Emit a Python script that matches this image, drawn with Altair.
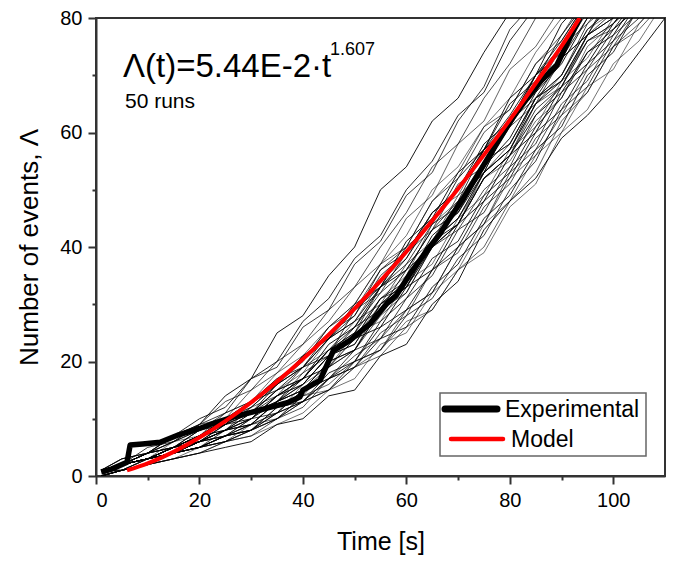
import altair as alt
import pandas as pd

# ---------------- data ----------------
# time grid (s) shared by the simulated runs
T = [1, 5, 10, 15, 20, 25, 30, 35, 40, 45, 50, 55, 60, 65, 70, 75, 80, 85, 90, 95, 100, 105, 110]

# number of events for each simulated run at the times in T
RUNS = [
    [1, 2, 4, 7, 9, 14, 17, 25, 28, 35, 40, 50, 54, 62, 66, 74, 81],
    [1, 3, 4, 7, 10, 12, 17, 20, 27, 31, 38, 42, 50, 55, 63, 67, 76, 82],
    [1, 2, 5, 6, 9, 11, 17, 19, 26, 29, 37, 41, 49, 53, 62, 68, 78, 83],
    [1, 2, 4, 7, 9, 13, 15, 20, 23, 29, 33, 40, 46, 54, 58, 66, 72, 80],
    [1, 3, 4, 6, 9, 10, 15, 18, 23, 27, 33, 37, 45, 49, 58, 62, 71, 75, 82],
    [1, 2, 3, 6, 7, 11, 13, 18, 21, 26, 30, 37, 42, 50, 54, 61, 66, 74, 80],
    [1, 2, 4, 5, 8, 9, 13, 16, 21, 24, 30, 33, 41, 45, 53, 57, 66, 70, 79, 84],
    [1, 2, 3, 5, 7, 10, 11, 16, 19, 25, 28, 36, 39, 46, 50, 57, 63, 70, 76, 83],
    [0, 1, 3, 4, 6, 9, 11, 15, 17, 22, 26, 32, 36, 43, 48, 57, 61, 68, 73, 80],
    [1, 2, 3, 5, 6, 8, 11, 13, 18, 21, 29, 32, 39, 43, 51, 54, 61, 65, 73, 77, 84],
    [1, 2, 4, 5, 7, 8, 12, 14, 19, 22, 27, 30, 37, 41, 49, 53, 62, 67, 75, 79, 85],
    [0, 1, 3, 4, 6, 7, 10, 14, 16, 21, 24, 31, 35, 44, 48, 55, 58, 66, 70, 78, 81],
    [1, 2, 3, 4, 6, 8, 10, 13, 16, 21, 23, 30, 34, 42, 46, 54, 59, 67, 72, 80],
    [1, 2, 3, 5, 7, 9, 13, 15, 19, 21, 26, 29, 36, 40, 48, 53, 62, 66, 73, 77, 85],
    [0, 1, 2, 4, 5, 8, 10, 14, 17, 22, 25, 33, 37, 44, 47, 55, 58, 66, 69, 77, 80],
    [1, 2, 3, 5, 6, 8, 9, 13, 15, 20, 22, 29, 32, 40, 44, 52, 56, 65, 70, 79, 83],
    [1, 2, 3, 4, 5, 7, 8, 12, 14, 19, 22, 30, 34, 41, 45, 53, 57, 65, 68, 76, 79, 84],
    [0, 1, 2, 3, 5, 6, 9, 11, 16, 19, 25, 27, 34, 37, 45, 49, 57, 61, 69, 73, 80],
    [1, 2, 4, 5, 7, 8, 11, 13, 17, 19, 24, 26, 33, 36, 44, 48, 56, 60, 68, 72, 79, 85],
    [1, 1, 2, 4, 5, 7, 8, 11, 13, 18, 20, 27, 31, 38, 41, 49, 53, 61, 66, 74, 78, 84],
    [1, 2, 3, 4, 6, 7, 10, 11, 15, 17, 22, 24, 31, 35, 43, 46, 54, 58, 67, 71, 78, 82],
    [0, 1, 2, 3, 4, 6, 7, 10, 12, 17, 19, 25, 28, 36, 39, 47, 51, 59, 63, 71, 75, 82],
    [1, 2, 3, 4, 5, 6, 8, 10, 14, 16, 20, 22, 29, 32, 40, 44, 52, 56, 63, 67, 75, 78, 83],
    [0, 1, 2, 3, 4, 6, 7, 9, 11, 15, 17, 23, 25, 32, 36, 44, 48, 56, 60, 68, 71, 79, 84],
    [1, 1, 2, 3, 4, 5, 6, 9, 10, 14, 15, 21, 23, 30, 34, 43, 48, 52, 59, 63, 68, 74, 80],
    [1, 2, 3, 4, 5, 7, 8, 12, 13, 17, 19, 24, 26, 33, 37, 45, 49, 57, 61, 70, 74, 82],
    [0, 1, 2, 4, 5, 6, 8, 10, 13, 15, 20, 22, 28, 31, 38, 42, 50, 55, 64, 68, 76, 80],
    [1, 2, 3, 5, 6, 7, 9, 11, 15, 17, 21, 24, 29, 32, 40, 44, 53, 57, 65, 69, 77, 81],
    [1, 2, 3, 4, 6, 7, 9, 10, 13, 15, 19, 21, 26, 29, 36, 40, 48, 53, 62, 67, 75, 79, 84],
    [0, 1, 3, 4, 5, 6, 8, 10, 14, 15, 19, 22, 27, 29, 36, 39, 47, 51, 60, 64, 72, 76, 83],
    [1, 2, 3, 5, 7, 10, 12, 16, 19, 24, 27, 33, 38, 45, 50, 58, 62, 70, 74, 82],
    [1, 2, 4, 6, 8, 10, 13, 16, 21, 24, 29, 33, 40, 44, 52, 57, 65, 69, 77, 83],
    [1, 2, 3, 5, 7, 10, 13, 17, 19, 24, 28, 35, 39, 46, 50, 57, 61, 70, 75, 82],
    [1, 3, 4, 6, 8, 11, 13, 17, 20, 26, 29, 36, 40, 48, 52, 60, 64, 72, 77, 84],
    [1, 2, 3, 5, 7, 9, 12, 16, 20, 26, 30, 37, 40, 48, 53, 61, 64, 72, 76, 83],
    [0, 2, 3, 4, 6, 9, 11, 15, 18, 24, 27, 34, 38, 46, 49, 57, 62, 70, 74, 81],
    [1, 2, 4, 5, 7, 9, 10, 14, 17, 23, 26, 33, 36, 43, 46, 53, 57, 65, 69, 77, 80],
    [1, 2, 3, 5, 8, 10, 11, 15, 17, 22, 25, 31, 34, 41, 45, 53, 57, 66, 70, 78, 82],
    [1, 2, 3, 4, 6, 9, 11, 14, 16, 21, 24, 31, 33, 40, 44, 52, 56, 64, 68, 77, 81],
    [0, 1, 3, 4, 5, 7, 9, 13, 15, 19, 22, 28, 32, 40, 43, 50, 54, 63, 68, 76, 79, 84],
    [1, 2, 3, 4, 6, 8, 9, 13, 16, 21, 23, 30, 33, 40, 44, 53, 58, 66, 69, 76, 78, 82],
    [1, 2, 3, 4, 6, 8, 10, 14, 17, 22, 24, 30, 33, 41, 45, 52, 55, 62, 66, 75, 79, 83],
    [1, 2, 3, 5, 6, 8, 9, 13, 15, 20, 22, 29, 33, 41, 44, 52, 56, 63, 67, 74, 77, 84],
    [0, 1, 2, 4, 5, 7, 8, 11, 13, 17, 20, 26, 29, 36, 40, 48, 52, 60, 64, 72, 76, 83],
]

# experimental run (thick black)
EXP_T = [1, 3, 6, 6.6, 9, 12.4, 16, 20, 23, 26.5, 30, 33.6, 37, 39.4, 40, 43.3, 45.9,
         49.1, 53, 56.2, 58, 60.7, 63.9, 66.5, 68, 71, 74.2, 78.1, 80.5, 83.3, 86,
         89.1, 92.2, 93.6]
EXP_Y = [0.7, 1.2, 2.4, 5.4, 5.6, 5.9, 7.2, 8.3, 9.3, 10.3, 11.1, 12.0, 12.8, 13.8,
         15.0, 16.7, 21.9, 23.7, 26.6, 30.1, 31.5, 35.3, 39.3, 42.3, 44.5, 48.5, 53.2,
         59.0, 62.5, 65.9, 69.0, 71.8, 77.6, 80.0]

# model curve (red)
MODEL_T = [6, 10, 15, 20, 25, 30, 35, 40, 45, 50, 55, 60, 65, 70, 75, 80, 85, 90, 93.5]
MODEL_Y = [0.97, 2.20, 4.22, 6.71, 9.60, 12.87, 16.49, 20.43, 24.68, 29.22, 34.08,
           39.18, 44.59, 50.19, 56.10, 62.20, 68.60, 75.10, 80.0]

SERIES = ["Experimental", "Model"]
ANNOT_MAIN = ["\u039b(t)=5.44E-2\u00b7t"]
ANNOT_SUP = ["1.607"]
ANNOT_RUNS = ["50 runs"]

# ---------------- tables ----------------
rows = []
for i, run in enumerate(RUNS):
    for t, n in zip(T, run):
        rows.append({"run": i, "shade": i % 6, "t": t, "n": n})
runs_df = pd.DataFrame(rows)

exp_df = pd.DataFrame({"t": EXP_T, "n": EXP_Y, "k": range(len(EXP_T))})
model_df = pd.DataFrame({"t": MODEL_T, "n": MODEL_Y, "k": range(len(MODEL_T))})

FONT = "Liberation Sans"
INK = "#333333"
RED = "#ff0000"

x_scale = alt.Scale(domain=[0, 110], nice=False, zero=False)
y_scale = alt.Scale(domain=[0, 80], nice=False)

major_or_minor = {"condition": {"test": "datum.value % 20 === 0", "value": 8}, "value": 4}

x_axis = alt.Axis(
    values=list(range(0, 101, 10)),
    labelExpr="datum.value % 20 === 0 ? datum.label : ''",
    tickSize=major_or_minor,
    title="Time [s]",
    titlePadding=19,
    titleFontSize=25,
)
y_axis = alt.Axis(
    values=list(range(0, 81, 10)),
    labelExpr="datum.value % 20 === 0 ? datum.label : ''",
    tickSize=major_or_minor,
    title="Number of events, \u039b",
    titlePadding=17,
    titleFontSize=26,
)

base_x = alt.X("t:Q", scale=x_scale, axis=x_axis)
base_y = alt.Y("n:Q", scale=y_scale, axis=y_axis)

runs_layer = alt.Chart(runs_df).mark_line(clip=True, strokeWidth=1, color="black").encode(
    x=base_x,
    y=base_y,
    detail="run:N",
    order="t:Q",
    opacity=alt.Opacity("shade:O", scale=alt.Scale(domain=[0, 1, 2, 3, 4, 5],
                                                   range=[0.9, 0.55, 0.75, 0.35, 0.95, 0.65]),
                        legend=None),
)

exp_layer = alt.Chart(exp_df).mark_line(clip=True, color="black", strokeWidth=5.5,
                                        strokeJoin="round").encode(
    x=base_x, y=base_y, order="k:Q"
)
model_layer = alt.Chart(model_df).mark_line(clip=True, color=RED, strokeWidth=4,
                                            interpolate="monotone").encode(
    x=base_x, y=base_y, order="k:Q"
)

# annotation texts (plot-area pixel placement)
main_txt = alt.Chart(pd.DataFrame({"s": ANNOT_MAIN})).mark_text(
    align="left", baseline="alphabetic", font=FONT, fontSize=33, color="black"
).encode(x=alt.value(27), y=alt.value(59), text="s:N")
sup_txt = alt.Chart(pd.DataFrame({"s": ANNOT_SUP})).mark_text(
    align="left", baseline="alphabetic", font=FONT, fontSize=18, color="black"
).encode(x=alt.value(234), y=alt.value(37), text="s:N")
runs_txt = alt.Chart(pd.DataFrame({"s": ANNOT_RUNS})).mark_text(
    align="left", baseline="alphabetic", font=FONT, fontSize=21, color="black"
).encode(x=alt.value(29), y=alt.value(90), text="s:N")

# legend (box, two line samples, two labels)
one = pd.DataFrame({"a": [0]})
leg_box = alt.Chart(one).mark_rect(fill="white", stroke="#666666", strokeWidth=1.5).encode(
    x=alt.value(344), x2=alt.value(550), y=alt.value(375), y2=alt.value(438)
)
leg_exp = alt.Chart(one).mark_rule(color="black", strokeWidth=7, strokeCap="round").encode(
    x=alt.value(349), x2=alt.value(401), y=alt.value(391)
)
leg_mod = alt.Chart(one).mark_rule(color=RED, strokeWidth=4.5, strokeCap="round").encode(
    x=alt.value(355), x2=alt.value(407), y=alt.value(421)
)
leg_lab1 = alt.Chart(pd.DataFrame({"s": [SERIES[0]]})).mark_text(
    align="left", baseline="alphabetic", font=FONT, fontSize=23, color="black"
).encode(x=alt.value(409), y=alt.value(399), text="s:N")
leg_lab2 = alt.Chart(pd.DataFrame({"s": [SERIES[1]]})).mark_text(
    align="left", baseline="alphabetic", font=FONT, fontSize=23, color="black"
).encode(x=alt.value(415), y=alt.value(429), text="s:N")

chart = (
    alt.layer(runs_layer, exp_layer, model_layer, main_txt, sup_txt, runs_txt,
              leg_box, leg_exp, leg_mod, leg_lab1, leg_lab2)
    .properties(
        width=569, height=458,
        autosize=alt.AutoSizeParams(type="none"),
        padding={"left": 88, "top": 10, "right": 1, "bottom": 80},
    )
    .configure_view(stroke=INK, strokeWidth=2)
    .configure_axis(
        labelFont=FONT, labelFontSize=20, labelColor="black", labelPadding=6,
        titleFont=FONT, titleFontWeight="normal", titleColor="black",
        domainColor=INK, domainWidth=2, tickColor=INK, tickWidth=2, grid=False,
    )
)

chart.save("out.html", embed_options={"renderer": "svg", "actions": False})
